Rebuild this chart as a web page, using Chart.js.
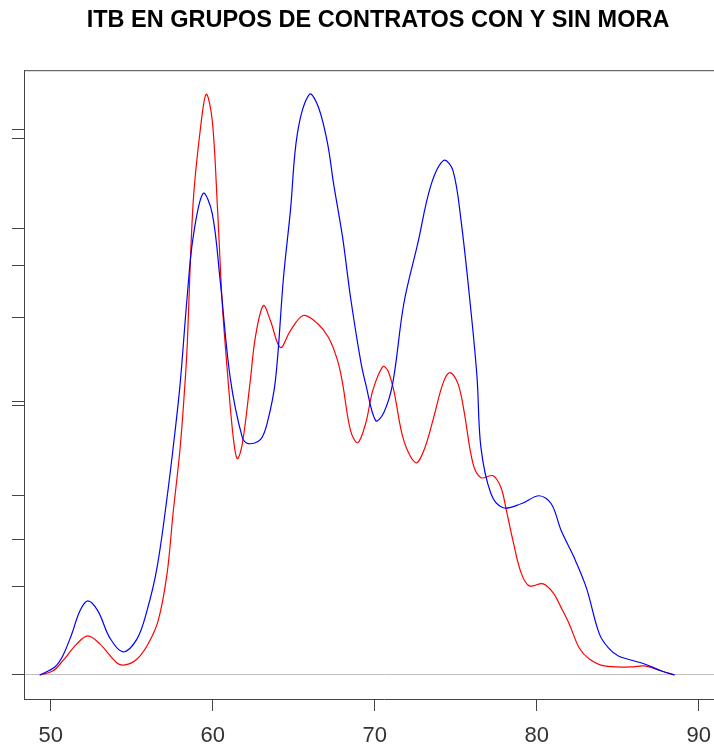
<!DOCTYPE html>
<html>
<head>
<meta charset="utf-8">
<script src="https://cdn.jsdelivr.net/npm/chart.js@4/dist/chart.umd.min.js"></script>
<style>
html, body { margin: 0; padding: 0; overflow: hidden; background: #fff; }
#wrap { width: 752px; height: 745px; }
</style>
</head>
<body>
<div id="wrap"><canvas id="myCanvasDensity"></canvas></div>
<script>
var chartTitle = 'ITB EN GRUPOS DE CONTRATOS CON Y SIN MORA';

// ITB values (x) and density estimates (y)
var xBlue = [49.32, 50.25, 50.74, 51.30, 51.80, 52.29, 52.91, 53.65, 54.46, 55.33, 55.94, 56.56, 57.18, 57.68, 57.99, 58.42, 58.79, 59.41, 59.97, 60.46, 61.08, 61.83, 62.20, 62.94, 63.37, 63.87, 64.37, 64.80, 65.23, 65.98, 66.53, 67.09, 67.46, 68.02, 68.51, 69.13, 69.44, 70.06, 70.56, 71.11, 71.80, 72.66, 73.47, 74.27, 74.83, 75.33, 75.94, 76.32, 76.56, 77.18, 77.93, 79.04, 80.15, 80.90, 81.52, 82.32, 83.07, 83.87, 84.43, 85.05, 86.66, 87.71, 88.51];
var yBlue = [0, 0.0008, 0.0019, 0.0041, 0.0064, 0.0074, 0.0064, 0.0037, 0.0023, 0.0036, 0.0064, 0.0107, 0.0177, 0.0244, 0.0291, 0.0377, 0.0437, 0.0481, 0.0461, 0.0394, 0.0297, 0.0237, 0.0231, 0.0235, 0.0252, 0.0294, 0.0397, 0.0464, 0.0541, 0.0580, 0.0567, 0.0531, 0.0491, 0.0437, 0.0377, 0.0314, 0.0291, 0.0254, 0.0262, 0.0291, 0.0371, 0.0431, 0.0489, 0.0514, 0.0504, 0.0454, 0.0364, 0.0297, 0.0227, 0.0181, 0.0167, 0.0171, 0.0179, 0.0171, 0.0144, 0.0117, 0.0087, 0.0041, 0.0027, 0.0019, 0.0011, 0.0004, 0];

var xRed = [49.32, 50.12, 50.74, 51.61, 52.29, 53.03, 54.09, 54.58, 55.33, 56.01, 56.63, 57.18, 57.55, 57.99, 58.30, 58.42, 58.79, 59.23, 59.60, 59.97, 60.28, 60.59, 60.90, 61.27, 61.52, 61.83, 62.32, 62.63, 63.13, 63.56, 64.18, 64.80, 65.60, 66.47, 67.15, 67.71, 68.02, 68.51, 68.95, 69.44, 69.88, 70.50, 70.81, 71.18, 71.80, 72.54, 73.03, 73.59, 74.21, 74.64, 75.14, 75.51, 76.07, 76.56, 77.31, 77.80, 78.11, 78.54, 79.04, 79.54, 80.40, 81.02, 81.52, 82.01, 82.63, 83.25, 84.18, 85.85, 86.66, 87.71, 88.51];
var yRed = [0, 0.0004, 0.0014, 0.0031, 0.0039, 0.0031, 0.0012, 0.0010, 0.0016, 0.0031, 0.0054, 0.0101, 0.0161, 0.0227, 0.0294, 0.0327, 0.0471, 0.0544, 0.0580, 0.0554, 0.0471, 0.0371, 0.0304, 0.0237, 0.0216, 0.0231, 0.0294, 0.0337, 0.0369, 0.0354, 0.0327, 0.0344, 0.0359, 0.0351, 0.0337, 0.0314, 0.0291, 0.0244, 0.0232, 0.0251, 0.0284, 0.0308, 0.0304, 0.0284, 0.0234, 0.0212, 0.0224, 0.0254, 0.0291, 0.0302, 0.0291, 0.0264, 0.0211, 0.0197, 0.0199, 0.0187, 0.0166, 0.0134, 0.0102, 0.0089, 0.0091, 0.0082, 0.0067, 0.0051, 0.0027, 0.0016, 0.0009, 0.0008, 0.0009, 0.0004, 0];

var xTicks = [50, 60, 70, 80, 90];
var yTicks = [0, 0.0088, 0.0135, 0.0179, 0.0269, 0.0273, 0.0357, 0.0409, 0.0446, 0.0536, 0.0545];

function toPoints(xs, ys){
	var pts = [];
	for(var i in xs){
		pts.push({x: xs[i], y: ys[i]});
	}
	return pts;
}

// frame around the plot region, like base R's box()
var boxPlugin = {
	id: 'plotBox',
	afterDraw: function(chart){
		var a = chart.chartArea;
		var ctx = chart.ctx;
		ctx.save();
		ctx.strokeStyle = '#444';
		ctx.lineWidth = 1;
		ctx.beginPath();
		ctx.moveTo(a.left, a.top + 0.5);
		ctx.lineTo(a.right, a.top + 0.5);
		ctx.moveTo(a.right - 0.5, a.top);
		ctx.lineTo(a.right - 0.5, a.bottom);
		ctx.stroke();
		ctx.restore();
	}
};

var chartdata = {
	datasets: [
		{
			label: 'Sin mora',
			data: toPoints(xBlue, yBlue),
			borderColor: '#0000ff',
			borderWidth: 1.2,
			pointRadius: 0,
			fill: false,
			tension: 0.35
		},
		{
			label: 'Con mora',
			data: toPoints(xRed, yRed),
			borderColor: '#ff0000',
			borderWidth: 1.2,
			pointRadius: 0,
			fill: false,
			tension: 0.35
		}
	]
};

var ctx = document.getElementById('myCanvasDensity');

var densityChart = new Chart(ctx, {
	type: 'line',
	data: chartdata,
	plugins: [boxPlugin],
	options: {
		responsive: true,
		maintainAspectRatio: false,
		animation: false,
		layout: { padding: { left: 12, right: 8, top: 0, bottom: -16 } },
		plugins: {
			legend: { display: false },
			tooltip: { enabled: false },
			title: {
				display: true,
				text: chartTitle,
				color: '#000',
				font: { family: 'Liberation Sans', size: 23.5, weight: 'bold', lineHeight: 1.2 },
				padding: { top: 6, bottom: 36 }
			}
		},
		scales: {
			x: {
				type: 'linear',
				min: 48.35,
				max: 92.8,
				afterBuildTicks: function(scale){
					scale.ticks = xTicks.map(function(v){ return {value: v}; });
				},
				grid: {
					drawOnChartArea: false,
					tickLength: 12,
					tickColor: '#444'
				},
				border: { color: '#444', width: 1 },
				ticks: {
					color: '#333',
					padding: 14,
					maxRotation: 0,
					font: { family: 'Liberation Sans', size: 22, lineHeight: 1 }
				}
			},
			y: {
				type: 'linear',
				min: -0.0024,
				max: 0.0604,
				afterBuildTicks: function(scale){
					scale.ticks = yTicks.map(function(v){ return {value: v}; });
				},
				grid: {
					color: function(c){
						return (c.tick && c.tick.value === 0) ? '#bebebe' : 'rgba(0,0,0,0)';
					},
					lineWidth: 1,
					tickLength: 12,
					tickColor: '#444'
				},
				border: { color: '#444', width: 1 },
				ticks: { display: false }
			}
		}
	}
});
</script>
</body>
</html>
